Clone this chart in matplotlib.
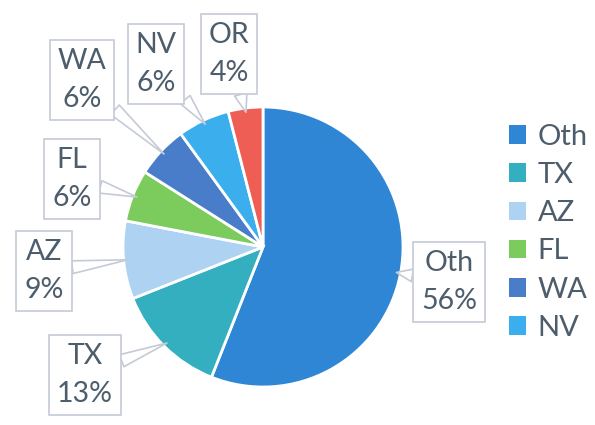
import numpy as np
import matplotlib.pyplot as plt
from matplotlib.patches import Patch

labels = ["Oth", "TX", "AZ", "FL", "WA", "NV", "OR"]
shares = [56, 13, 9, 6, 6, 6, 4]
colors = ["#2E86D4", "#33AFBF", "#AED2F2", "#7BCB5D", "#4A7DC9", "#3BAEEE", "#EE5E55"]
legend_labels = ["Oth", "TX", "AZ", "FL", "WA", "NV"]

# callout box centres in pixels from the top-left corner
box_pos = {"Oth": (449, 282), "TX": (85, 375), "AZ": (44, 271), "FL": (72, 179),
           "WA": (82, 80), "NV": (156, 64), "OR": (229, 54)}

W, H = 595, 425
txt_col = "#4D5D6B"
edge_col = "#C5CAD6"
plt.rcParams['font.family'] = ['Lato', 'DejaVu Sans']

fig = plt.figure(figsize=(W / 100, H / 100), dpi=100)
cx, cy, r = 263, 247, 140
ax = fig.add_axes([(cx - r) / W, (H - cy - r) / H, 2 * r / W, 2 * r / H])

wedges, _ = ax.pie(shares, colors=colors, startangle=90, counterclock=False,
                   radius=1, wedgeprops=dict(edgecolor="white", linewidth=2))
ax.set_xlim(-1, 1)
ax.set_ylim(-1, 1)
ax.set_aspect("equal")
ax.axis("off")

for w, lab, s in zip(wedges, labels, shares):
    ang = np.deg2rad((w.theta1 + w.theta2) / 2)
    px, py = box_pos[lab]
    ax.annotate(f"{lab}\n{s}%", xy=(0.97 * np.cos(ang), 0.97 * np.sin(ang)),
                xycoords="data", xytext=(px, H - py), textcoords="figure pixels",
                ha="center", va="center", fontsize=20.5, color=txt_col,
                linespacing=1.55,
                bbox=dict(boxstyle="square,pad=0.28", fc="white", ec=edge_col, lw=1.2),
                arrowprops=dict(arrowstyle="wedge,tail_width=0.45,shrink_factor=0.5",
                                fc="white", ec=edge_col, lw=1.2,
                                shrinkA=0, shrinkB=0))

handles = [Patch(facecolor=c, edgecolor="none") for c in colors[:len(legend_labels)]]
fig.legend(handles, legend_labels, loc="upper left", bbox_to_anchor=(497 / W, 1 - 112 / H),
           frameon=False, fontsize=21, labelcolor=txt_col, handlelength=0.6,
           handleheight=0.6, handletextpad=0.4, labelspacing=0.42, borderaxespad=0)

fig.savefig("out.png", dpi=100, facecolor="white")
